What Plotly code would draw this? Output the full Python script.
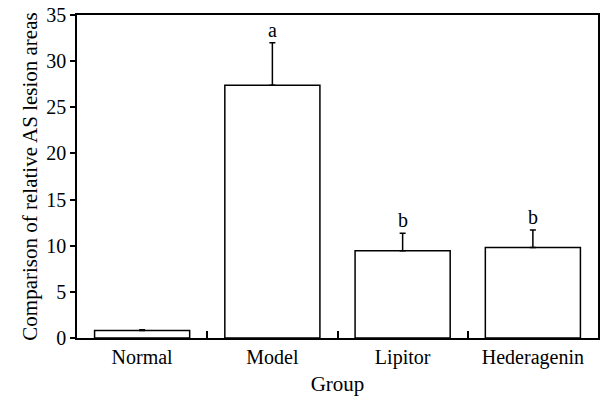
import plotly.graph_objects as go

groups = ["Normal", "Model", "Lipitor", "Hederagenin"]
means = [0.8, 27.4, 9.45, 9.8]
errors = [0.1, 4.6, 1.9, 1.9]
letters = ["", "a", "b", "b"]
y_ticks = [0, 5, 10, 15, 20, 25, 30, 35]

FONT = "Liberation Serif"
FS = 20
FT = 21

fig = go.Figure()
fig.add_trace(go.Bar(
    x=groups, y=means, width=0.73,
    marker=dict(color="white", line=dict(color="black", width=1.5)),
    error_y=dict(type="data", symmetric=False, array=errors,
                 arrayminus=[0]*len(errors), color="black", thickness=1.5, width=3),
    showlegend=False,
))

for g, m, e, t in zip(groups, means, errors, letters):
    if t:
        fig.add_annotation(x=g, y=m + e, text=t, showarrow=False,
                           yanchor="bottom", yshift=0,
                           font=dict(family=FONT, size=FS, color="black"))

fig.update_layout(
    width=608, height=402,
    margin=dict(l=77, r=10, t=15, b=64, autoexpand=False),
    plot_bgcolor="white", paper_bgcolor="white",
    font=dict(family=FONT, size=FS, color="black"),
    bargap=0.27,
)
fig.update_xaxes(
    automargin=False,
    showline=True, linecolor="black", linewidth=1.5, mirror=True,
    ticks="inside", tickson="boundaries", ticklen=7, tickcolor="black", tickwidth=1.5,
    showgrid=False,
    title=dict(text="Group", standoff=9, font=dict(family=FONT, size=FT)),
    tickfont=dict(family=FONT, size=FS),
)
fig.update_yaxes(
    automargin=False,
    range=[0, 35], tickvals=y_ticks,
    showline=True, linecolor="black", linewidth=1.5, mirror=True,
    ticks="outside", ticklen=5, tickcolor="black", tickwidth=1.5,
    showgrid=False, zeroline=False,
    title=dict(text="Comparison of relative AS lesion areas", standoff=3,
               font=dict(family=FONT, size=FT)),
    tickfont=dict(family=FONT, size=FS),
)

fig.write_html("out.html", config={"displayModeBar": False},
               post_script="document.body.style.margin='0';")
